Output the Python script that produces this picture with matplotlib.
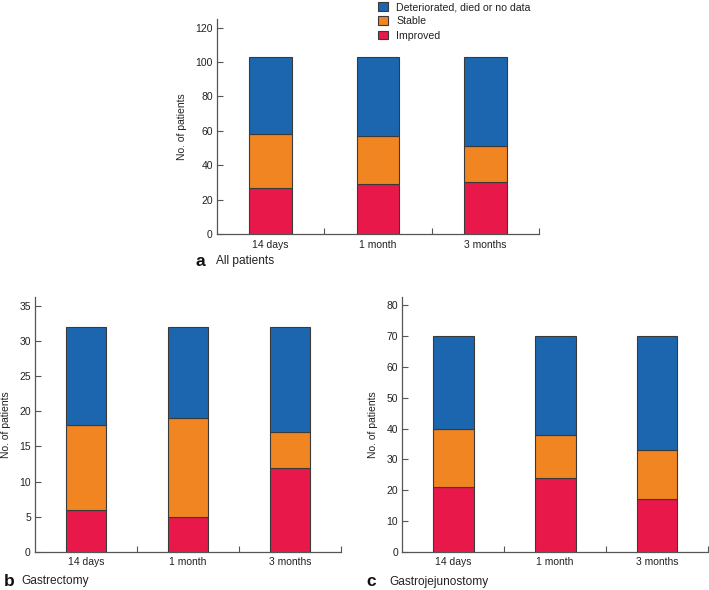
import matplotlib
matplotlib.use("Agg")
import matplotlib.pyplot as plt
import numpy as np

plt.rcParams['font.family'] = ['Liberation Sans', 'DejaVu Sans']

categories = ["14 days", "1 month", "3 months"]
series_names = ["Improved", "Stable", "Deteriorated, died or no data"]
colors = ["#e8194a", "#f08522", "#1c66b0"]

# panel a: all patients
a_improved = [27, 29, 30]
a_stable = [31, 28, 21]
a_deteriorated = [45, 46, 52]
# panel b: gastrectomy
b_improved = [6, 5, 12]
b_stable = [12, 14, 5]
b_deteriorated = [14, 13, 15]
# panel c: gastrojejunostomy
c_improved = [21, 24, 17]
c_stable = [19, 14, 16]
c_deteriorated = [30, 32, 37]

yticks_a = [0, 20, 40, 60, 80, 100, 120]
yticks_b = [0, 5, 10, 15, 20, 25, 30, 35]
yticks_c = [0, 10, 20, 30, 40, 50, 60, 70, 80]

W, H = 709, 590
fig = plt.figure(figsize=(W / 100, H / 100), dpi=100)

def frac(l, r, b, t):
    return [l / W, 1 - b / H, (r - l) / W, (b - t) / H]

spine_c = "#555555"
edge_c = "#3a3a3a"
text_c = "#222222"

def draw(ax, data, yticks, ytop):
    x = np.arange(len(categories))
    bottom = np.zeros(len(categories))
    handles = []
    for vals, col, name in zip(data, colors, series_names):
        h = ax.bar(x, vals, width=0.4, bottom=bottom, color=col,
                   edgecolor=edge_c, linewidth=0.8, label=name, zorder=3)
        handles.append(h)
        bottom = bottom + np.array(vals)
    ax.set_xlim(-0.5, 2.5)
    ax.set_ylim(0, ytop)
    ax.set_yticks(yticks)
    ax.set_xticks(x)
    ax.set_xticklabels(categories, fontsize=7.5, color=text_c)
    ax.set_xticks([0.5, 1.5, 2.5], minor=True)
    ax.tick_params(axis='x', which='major', length=0, pad=4)
    ax.tick_params(axis='x', which='minor', direction='in', length=4,
                   color=spine_c, width=0.8)
    ax.tick_params(axis='y', direction='in', length=4, color=spine_c,
                   width=0.8, labelsize=7.5, pad=3, labelcolor=text_c)
    for s in ['top', 'right']:
        ax.spines[s].set_visible(False)
    for s in ['left', 'bottom']:
        ax.spines[s].set_color(spine_c)
        ax.spines[s].set_linewidth(0.9)
    ax.set_ylabel("No. of patients", fontsize=7.5, labelpad=6, color=text_c)
    return handles

ax_a = fig.add_axes(frac(217, 539, 234, 19))
hs = draw(ax_a, [a_improved, a_stable, a_deteriorated], yticks_a, 125)
ax_b = fig.add_axes(frac(35, 341, 551.7, 297))
draw(ax_b, [b_improved, b_stable, b_deteriorated], yticks_b, 36.3)
ax_c = fig.add_axes(frac(402.3, 708, 551.7, 297))
draw(ax_c, [c_improved, c_stable, c_deteriorated], yticks_c, 82.7)

leg = fig.legend(handles=hs[::-1], labels=series_names[::-1],
                 loc='upper left', bbox_to_anchor=(374 / W, 1 - (-2) / H),
                 frameon=False, fontsize=7.6, handlelength=0.9,
                 handleheight=0.9, handletextpad=0.8, labelspacing=0.4,
                 borderaxespad=0)
for t in leg.get_texts():
    t.set_color(text_c)

def panel_label(xl, xt, y, letter, text):
    fig.text(xl / W, 1 - y / H, letter, fontsize=12.5, fontweight='bold',
             va='center', ha='left', color='#111111')
    fig.text(xt / W, 1 - y / H, text, fontsize=8.6, va='center',
             ha='left', color=text_c)

panel_label(196, 216, 261, "a", "All patients")
panel_label(4, 21, 581, "b", "Gastrectomy")
panel_label(366, 389, 582, "c", "Gastrojejunostomy")

fig.savefig("out.png", dpi=100)
